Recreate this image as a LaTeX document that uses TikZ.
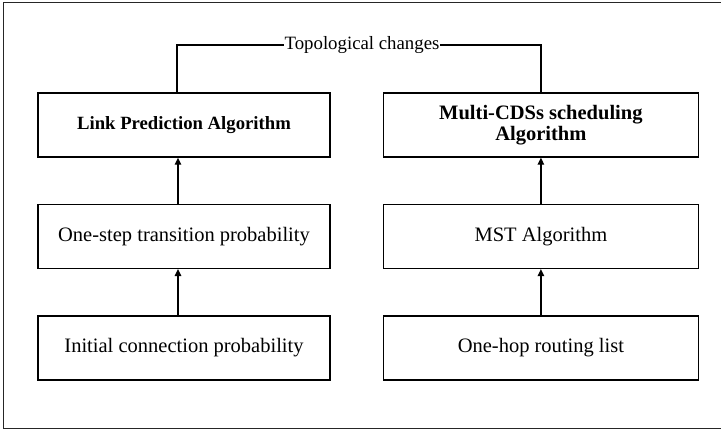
\documentclass[tikz,border=0pt]{standalone}
\usepackage{fontspec}
\setmainfont{Liberation Serif}
\usetikzlibrary{arrows.meta,positioning}
\tikzset{
  blk/.style={draw=black, line width=1.4pt, minimum height=64pt, align=center,
    inner sep=2pt, font=\fontsize{20.5}{22}\selectfont},
  lblk/.style={blk, minimum width=292pt},
  rblk/.style={blk, minimum width=315pt},
  ttl/.style={font=\bfseries\fontsize{18.7}{20}\selectfont},
  rttl/.style={font=\bfseries\fontsize{20.5}{21.7}\selectfont},
  lbl/.style={inner sep=0.5pt, font=\fontsize{18.8}{20}\selectfont},
  up/.style={-{Triangle[length=7pt,width=6.5pt]}, line width=1.3pt},
  wire/.style={line width=1.3pt},
  frame/.style={draw=black!85, line width=0.9pt}
}

\begin{document}
\begin{tikzpicture}[x=1pt,y=-1pt,node distance=46pt and 52pt]
  \useasboundingbox (0,0) rectangle (721,431);
  \draw[frame] (3,2.5) rectangle (723,428);

  % left column
  \node[lblk, ttl] (lpa) at (184,125) {Link Prediction Algorithm};
  \node[lblk, below=of lpa] (onestep) {One-step transition probability};
  \node[lblk, below=of onestep] (initp) {Initial connection probability};

  % right column
  \node[rblk, rttl, right=of lpa] (mcds) {Multi-CDSs scheduling\\Algorithm};
  \node[rblk, below=of mcds] (mst) {MST Algorithm};
  \node[rblk, below=of mst] (onehop) {One-hop routing list};

  % feedback on top
  \node[lbl] (topo) at (362,45) {Topological changes};
  \draw[wire] ([xshift=-7pt]lpa.north) |- (topo.west);
  \draw[wire] (topo.east) -| (mcds.north);

  \draw[up] ([xshift=-6pt]initp.north) -- ([xshift=-6pt]onestep.south);
  \draw[up] ([xshift=-6pt]onestep.north) -- ([xshift=-6pt]lpa.south);
  \draw[up] (onehop) -- (mst);
  \draw[up] (mst) -- (mcds);
\end{tikzpicture}
\end{document}
